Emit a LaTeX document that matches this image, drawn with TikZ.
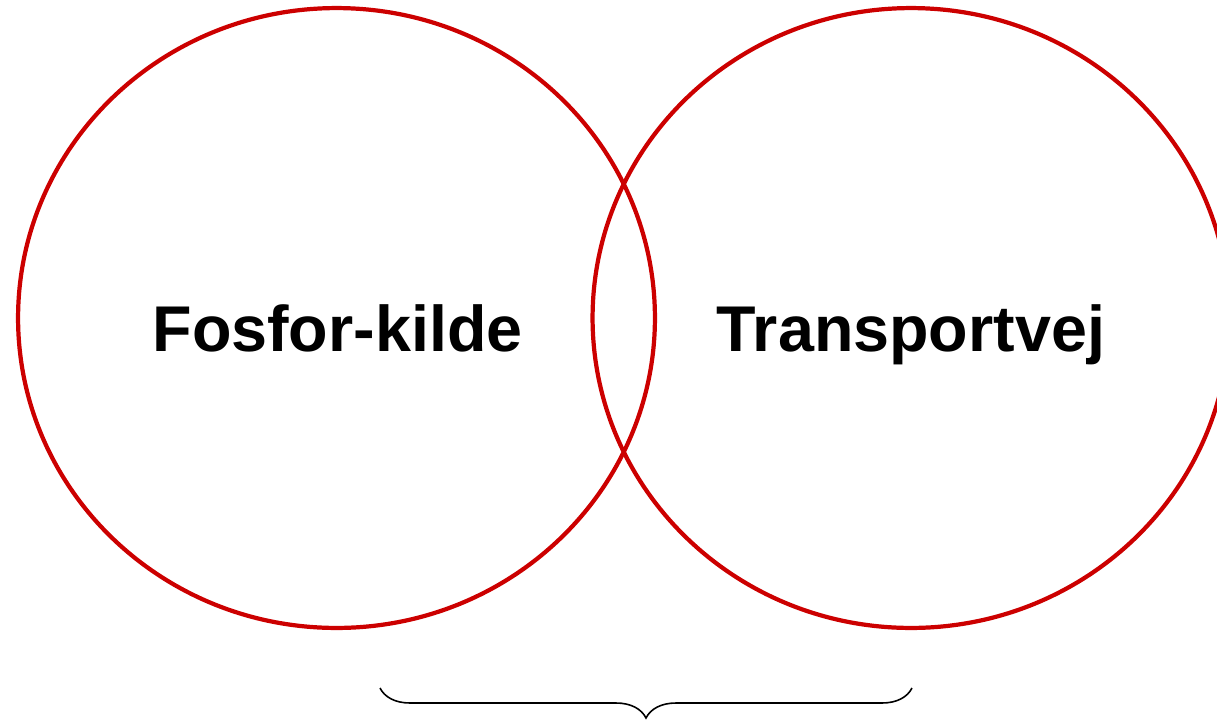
\documentclass[tikz,border=0pt]{standalone}
\usepackage{fontspec}
\setmainfont{Liberation Sans}
\usetikzlibrary{shapes.geometric,decorations.pathreplacing}
\definecolor{ringred}{RGB}{204,0,0}

\begin{document}
\begin{tikzpicture}[x=0.02cm,y=-0.02cm,
  ring/.style={ellipse,draw=ringred,line width=2.4pt,inner sep=0pt,
    minimum width=12.74cm,minimum height=12.4cm},
  ringlabel/.style={anchor=base,font=\fontsize{36.8}{40}\selectfont\bfseries}]
\useasboundingbox (0,0) rectangle (1217,721);
\clip (0,0) rectangle (1217,721);
\node[ring] (srcring) at (336.5,318) {};
\node[ring] (pathring) at (911,318) {};
\node[ringlabel] (srclabel) at (337.5,351) {Fosfor-kilde};
\node[ringlabel] (pathlabel) at (911,351) {Transportvej};
\coordinate (braceL) at (380,688);
\coordinate (braceR) at (912,688);
\draw[line width=0.9pt,decorate,decoration={brace,mirror,amplitude=0.6cm}]
  (braceL) -- (braceR);
\end{tikzpicture}
\end{document}
